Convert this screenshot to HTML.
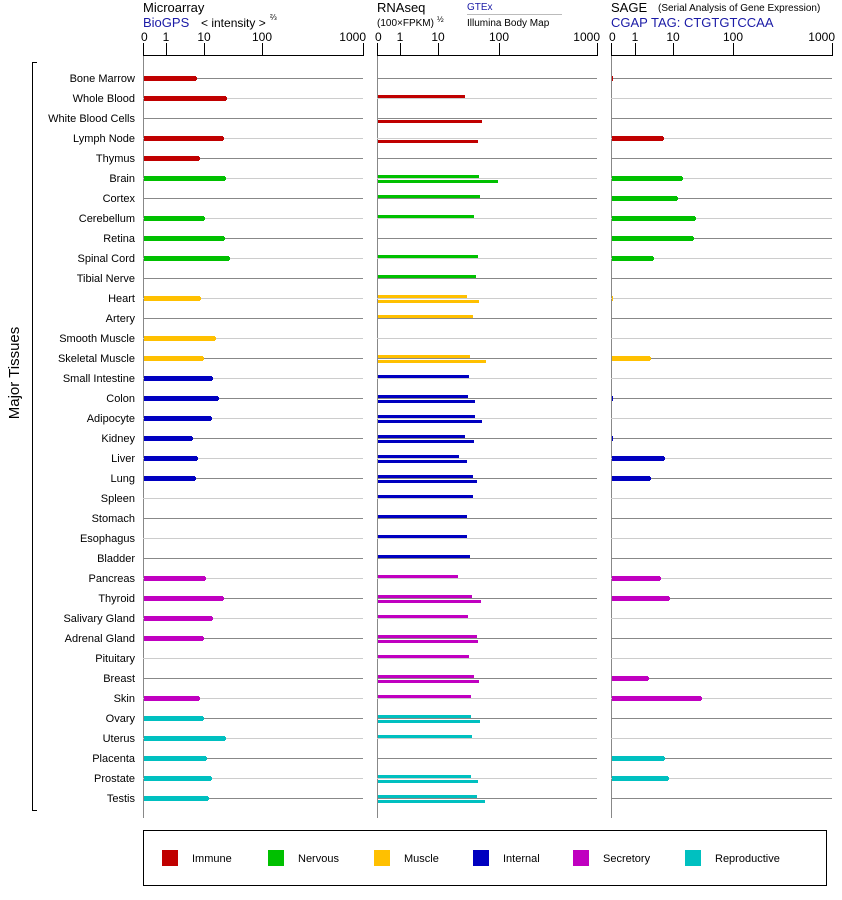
<!DOCTYPE html>
<html><head><meta charset="utf-8">
<style>
body{margin:0;background:#fff;}
svg{display:block;font-family:"Liberation Sans",Arial,sans-serif;}
</style></head><body>
<svg id="s" width="842" height="900" xmlns="http://www.w3.org/2000/svg">
<rect width="842" height="900" fill="#fff"/>
<text x="143" y="12" font-size="13">Microarray</text>
<text x="143" y="27" font-size="13" fill="#1a1aa6">BioGPS</text>
<text x="201" y="27" font-size="12">&lt; intensity &gt;</text>
<text x="270" y="20" font-size="8">⅔</text>
<text x="377" y="12" font-size="13">RNAseq</text>
<text x="377" y="26" font-size="10">(100×FPKM)</text>
<text x="437" y="22" font-size="8">½</text>
<text x="467" y="10" font-size="10" fill="#1a1aa6">GTEx</text>
<line x1="467" y1="14.5" x2="562" y2="14.5" stroke="#bbb"/>
<text x="467" y="26" font-size="10">Illumina Body Map</text>
<text x="611" y="12" font-size="13">SAGE</text>
<text x="658" y="11" font-size="10">(Serial Analysis of Gene Expression)</text>
<text x="611" y="27" font-size="13" fill="#1a1aa6">CGAP TAG: CTGTGTCCAA</text>
<g id="g"></g>
<path d="M37 62.5H32.5V810.5H37" fill="none" stroke="#000"/>
<text transform="translate(19,373) rotate(-90)" font-size="15" text-anchor="middle">Major Tissues</text>
<rect x="143.5" y="830.5" width="683" height="55" fill="none" stroke="#000"/>
</svg>
<script>
var g=document.getElementById('g'),h='';
var C=['#c00000','#00c000','#ffc000','#0000c0','#c000c0','#00c0c0'];
var axes=[[143,[143,166,204,262,363],363],[377,[377,400,438,499,597],597],[611,[611,635,673,733,832],832]];
var labs=['0','1','10','100','1000'];
axes.forEach(function(a){
 var x0=a[0],x1=a[2];
 h+='<line x1="'+x0+'" y1="55.5" x2="'+x1+'" y2="55.5" stroke="#000"/>';
 a[1].forEach(function(t,i){h+='<line x1="'+(t+.5)+'" y1="43" x2="'+(t+.5)+'" y2="56" stroke="#000"/>';
  var anc=i==0?'start':(i==4?'end':'middle');var tx=i==0?t-2:(i==4?t+3:t);
  h+='<text x="'+tx+'" y="41" font-size="12" text-anchor="'+anc+'">'+labs[i]+'</text>';});
 h+='<line x1="'+(x0+.5)+'" y1="56" x2="'+(x0+.5)+'" y2="818" stroke="#888"/>';
});
var R=[
['Bone Marrow',0,196,0,0,613],['Whole Blood',0,226,465,0,0],['White Blood Cells',0,0,0,482,0],['Lymph Node',0,223,0,478,663],['Thymus',0,199,0,0,0],
['Brain',1,225,479,498,682],['Cortex',1,0,480,0,677],['Cerebellum',1,204,474,0,695],['Retina',1,224,0,0,693],['Spinal Cord',1,229,478,0,653],['Tibial Nerve',1,0,476,0,0],
['Heart',2,200,467,479,613],['Artery',2,0,473,0,0],['Smooth Muscle',2,215,0,0,0],['Skeletal Muscle',2,203,470,486,650],
['Small Intestine',3,212,469,0,0],['Colon',3,218,468,475,613],['Adipocyte',3,211,475,482,0],['Kidney',3,192,465,474,613],['Liver',3,197,459,467,664],['Lung',3,195,473,477,650],['Spleen',3,0,473,0,0],['Stomach',3,0,467,0,0],['Esophagus',3,0,467,0,0],['Bladder',3,0,470,0,0],
['Pancreas',4,205,458,0,660],['Thyroid',4,223,472,481,669],['Salivary Gland',4,212,468,0,0],['Adrenal Gland',4,203,477,478,0],['Pituitary',4,0,469,0,0],['Breast',4,0,474,479,648],['Skin',4,199,471,0,701],
['Ovary',5,203,471,480,0],['Uterus',5,225,472,0,0],['Placenta',5,206,0,0,664],['Prostate',5,211,471,478,668],['Testis',5,208,477,485,0]];
R.forEach(function(r,i){
 var y=78+20*i,c=C[r[1]],lc=i%2==0?'#888':'#ccc';
 h+='<text x="135" y="'+(y+4)+'" font-size="11" text-anchor="end">'+r[0]+'</text>';
 [[143,363],[377,597],[611,832]].forEach(function(p){h+='<line x1="'+p[0]+'" y1="'+(y+.5)+'" x2="'+p[1]+'" y2="'+(y+.5)+'" stroke="'+lc+'"/>';});
 if(r[2]){h+='<rect x="144" y="'+(y-2)+'" width="'+(r[2]-144)+'" height="5" fill="'+c+'"/><rect x="'+(r[2]-1)+'" y="'+(y-1)+'" width="2" height="3" fill="'+c+'"/>';}
 if(r[3])h+='<rect x="378" y="'+(y-3)+'" width="'+(r[3]-378)+'" height="3" fill="'+c+'"/>';
 if(r[4])h+='<rect x="378" y="'+(y+2)+'" width="'+(r[4]-378)+'" height="3" fill="'+c+'"/>';
 if(r[5]){h+='<rect x="612" y="'+(y-2)+'" width="'+(r[5]-612)+'" height="5" fill="'+c+'"/>';if(r[5]>615)h+='<rect x="'+r[5]+'" y="'+(y-1)+'" width="1" height="3" fill="'+c+'"/>';}
});
var L=[['Immune',162,192],['Nervous',268,298],['Muscle',374,404],['Internal',473,503],['Secretory',573,603],['Reproductive',685,715]];
L.forEach(function(l,i){h+='<rect x="'+l[1]+'" y="850" width="16" height="16" fill="'+C[i]+'"/><text x="'+l[2]+'" y="862" font-size="11">'+l[0]+'</text>';});
g.innerHTML=h;
</script>
</body></html>
